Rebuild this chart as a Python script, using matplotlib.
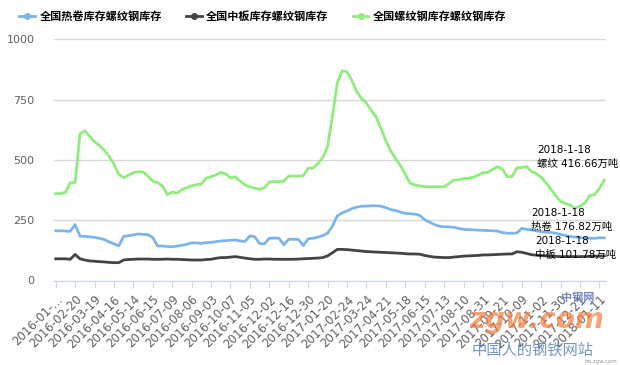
import matplotlib.pyplot as plt
import numpy as np

plt.rcParams['font.family'] = ['DejaVu Sans', 'Noto Sans CJK SC']

# weekly inventory (10k tonnes), 2016-01 .. 2018-01-18
hot_rolled = [206, 206, 205, 204, 232, 184, 183, 181, 179, 175, 170, 160, 152, 144, 183, 186,
              189, 193, 191, 190, 178, 143, 143, 141, 140, 143, 146, 150, 156, 156, 154, 157,
              158, 161, 164, 165, 167, 168, 164, 162, 185, 181, 153, 152, 175, 176, 175, 148,
              171, 171, 170, 145, 173, 175, 180, 186, 196, 225, 268, 280, 288, 298, 304, 308,
              308, 310, 310, 308, 302, 294, 290, 284, 278, 277, 275, 270, 252, 242, 232, 225,
              223, 222, 221, 216, 212, 211, 210, 209, 208, 207, 206, 205, 199, 196, 196, 197,
              216, 212, 210, 206, 203, 200, 199, 196, 191, 186, 182, 180, 178, 175, 175, 175,
              177, 176.82]
plate = [90, 90, 90, 88, 108, 90, 85, 81, 80, 78, 77, 75, 74, 74, 85, 87,
         88, 89, 89, 89, 88, 88, 88, 89, 88, 88, 87, 86, 85, 85, 85, 87,
         88, 92, 95, 95, 97, 99, 96, 93, 90, 88, 88, 89, 89, 88, 88, 88,
         88, 88, 89, 90, 91, 92, 93, 95, 102, 115, 129, 129, 128, 126, 124, 122,
         120, 119, 118, 117, 116, 115, 114, 113, 111, 110, 110, 109, 104, 100, 97, 96,
         95, 95, 97, 99, 101, 102, 103, 104, 106, 106, 107, 108, 109, 110, 110, 119,
         117, 112, 107, 105, 103, 102, 101, 100, 99, 99, 99, 99, 99, 99, 100, 101,
         101, 101.78]
rebar = [360, 360, 365, 405, 405, 607, 621, 598, 575, 560, 540, 515, 482, 440, 426, 437,
         447, 451, 450, 432, 412, 406, 392, 356, 367, 362, 377, 385, 392, 397, 400, 425,
         430, 438, 448, 442, 425, 430, 412, 396, 388, 383, 378, 385, 408, 410, 410, 412,
         433, 433, 433, 434, 465, 466, 485, 510, 555, 680, 818, 870, 865, 830, 783, 755,
         735, 705, 678, 630, 580, 538, 505, 477, 440, 403, 396, 392, 389, 389, 389, 389,
         388, 402, 417, 417, 422, 424, 428, 436, 447, 448, 461, 472, 462, 430, 431, 467,
         468, 472, 452, 443, 428, 405, 378, 352, 328, 320, 312, 300, 308, 322, 352, 356,
         382, 416.66]

tick_labels = ['2016-01-…', '2016-02-20', '2016-03-19', '2016-04-16', '2016-05-14',
               '2016-06-15', '2016-07-09', '2016-08-06', '2016-09-03', '2016-10-07',
               '2016-11-05', '2016-12-02', '2016-12-16', '2016-12-30', '2017-01-20',
               '2017-02-24', '2017-03-24', '2017-04-21', '2017-05-18', '2017-06-15',
               '2017-07-13', '2017-08-10', '2017-08-31', '2017-09-21', '2017-10-09',
               '2017-11-02', '2017-11-30', '2017-12-21', '2018-01-11']

names = ['全国热卷库存螺纹钢库存', '全国中板库存螺纹钢库存', '全国螺纹钢库存螺纹钢库存']
colors = ['#7cb5ec', '#434348', '#90ed7d']

fig = plt.figure(figsize=(6.2, 3.65), dpi=100)
ax = fig.add_axes([54/620, 1 - 280.5/365, 552/620, 241.2/365])

x = np.arange(len(rebar))
for series, name, c in zip([hot_rolled, plate, rebar], names, colors):
    ax.plot(x, series, color=c, lw=2, label=name, solid_joinstyle='round')

ax.set_xlim(-0.35, len(rebar) - 1 + 0.35)
ax.set_ylim(0, 1000)
ax.set_yticks([0, 250, 500, 750, 1000])
ax.grid(axis='y', color='#d8d8d8', lw=1)
ax.set_axisbelow(True)
for s in ['top', 'right', 'left']:
    ax.spines[s].set_visible(False)
ax.spines['bottom'].set_color('#ccd6eb')
ax.tick_params(axis='y', length=0, pad=14, labelsize=8, labelcolor='#606060')

ax.set_xticks(np.arange(len(tick_labels)) * 4)
ax.set_xticklabels(tick_labels, rotation=45, ha='right', rotation_mode='anchor',
                   fontsize=8.5, color='#606060')
ax.tick_params(axis='x', length=5, color='#ccd6eb', pad=4)

leg = fig.legend(loc='upper left', bbox_to_anchor=(0.015, 1.0), ncol=3, frameon=False,
                 prop={'family': 'Noto Sans CJK SC', 'weight': 'bold', 'size': 8},
                 handlelength=1.4, columnspacing=2.2, handletextpad=0.4)
for h in leg.legend_handles:
    h.set_marker('o')
    h.set_markersize(4)

# end-of-series annotations
ann = dict(fontsize=7.5, color='black', family=['DejaVu Sans', 'Noto Sans CJK SC'],
           linespacing=1.5, clip_on=False)
ax.text(537/620, 1 - 157/365, '2018-1-18\n螺纹 416.66万吨', transform=fig.transFigure,
        va='center', **ann)
ax.text(531/620, 1 - 220/365, '2018-1-18\n热卷 176.82万吨', transform=fig.transFigure,
        va='center', **ann)
ax.text(535/620, 1 - 248/365, '2018-1-18\n中板 101.78万吨', transform=fig.transFigure,
        va='center', **ann)

# watermark
fig.text(537/620, 1 - 320/365, 'zgw.com', fontsize=20, color='#f47c3c', alpha=0.7,
         fontweight='bold', style='italic', ha='center', va='center')
fig.text(578/620, 1 - 297/365, '中钢网', fontsize=8, color='#5b6fb8', alpha=0.85,
         family='Noto Sans CJK SC', fontweight='bold', ha='center', va='center')
fig.text(533/620, 1 - 350/365, '中国人的钢铁网站', fontsize=11, color='#5b86b8',
         family='Noto Sans CJK SC', ha='center', va='center', alpha=0.85)
fig.text(617/620, 1 - 362/365, 'hq.zgw.com', fontsize=4, color='#999999',
         ha='right', va='center')

fig.savefig('out.png', dpi=100)
